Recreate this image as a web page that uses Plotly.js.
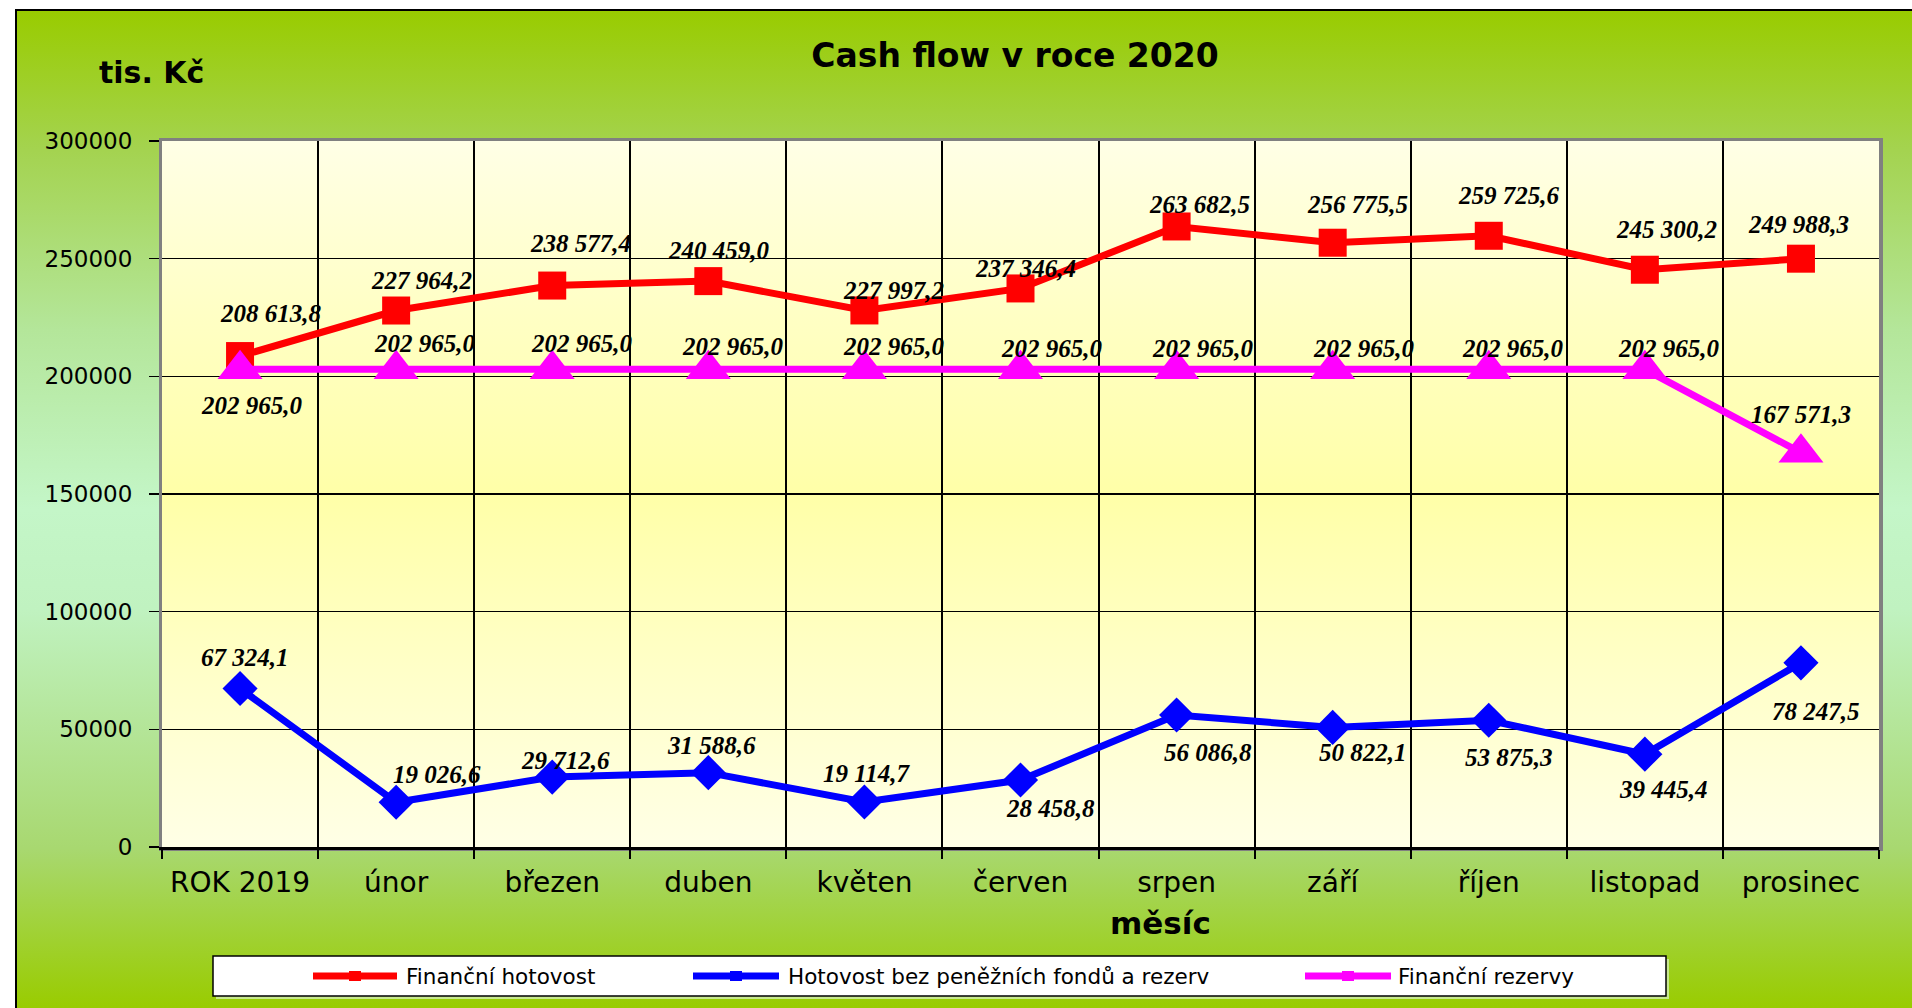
<!DOCTYPE html>
<html><head><meta charset="utf-8">
<script src="https://cdn.plot.ly/plotly-3.0.1.min.js"></script>
<style>
html,body{margin:0;padding:0;background:#fff;width:1912px;height:1008px;overflow:hidden;}
#frame{position:absolute;left:15px;top:9px;width:1897px;height:999px;border-left:2px solid #000;border-top:2px solid #000;box-sizing:border-box;
 background:linear-gradient(to bottom,#99CC00 0%,#A4D350 14%,#B4E69A 32%,#C4F6C8 50%,#C0F2C0 60%,#A8D870 84%,#99CC00 100%);}
#plotbg{position:absolute;left:159px;top:138px;width:1717px;height:706px;border-left:3px solid #808080;border-top:3px solid #808080;border-right:4px solid #808080;border-bottom:4px solid #808080;
 background:linear-gradient(to bottom,#FFFFE6 0%,#FFFFC4 25%,#FFFFA8 50%,#FFFFC8 75%,#FFFFE6 100%);}
#chart{position:absolute;left:0;top:0;width:1912px;height:1008px;}
</style></head>
<body>
<div id="frame"></div>
<div id="plotbg"></div>
<div id="chart"></div>
<script>
// ---- data ----
const categories = ['ROK 2019','únor','březen','duben','květen','červen','srpen','září','říjen','listopad','prosinec'];
const financniHotovost = [208613.8,227964.2,238577.4,240459.0,227997.2,237346.4,263682.5,256775.5,259725.6,245300.2,249988.3];
const hotovostBezFondu = [67324.1,19026.6,29712.6,31588.6,19114.7,28458.8,56086.8,50822.1,53875.3,39445.4,78247.5];
const financniRezervy = [202965.0,202965.0,202965.0,202965.0,202965.0,202965.0,202965.0,202965.0,202965.0,202965.0,167571.3];
const seriesNames = ['Finanční hotovost','Hotovost bez peněžních fondů a rezerv','Finanční rezervy'];
const yTicks = [0,50000,100000,150000,200000,250000,300000];

// ---- label offsets (px; style only) ----
const offRed  = [[31,-43],[25,-30],[28,-42],[11,-31],[29,-20],[5,-20],[23,-22],[25,-38],[20,-40],[22,-40],[-2,-34]];
const offBlue = [[5,-31],[41,-28],[13,-17],[3,-27],[3,-29],[30,28],[31,37],[30,25],[20,37],[19,35],[15,49]];
const offMag  = [[12,36],[29,-26],[30,-26],[25,-23],[30,-23],[31,-21],[26,-21],[31,-21],[24,-21],[24,-21],[0,-38]];

const colors = ['#FF0000','#0000FF','#FF00FF'];

function fmt(v){
  const s = v.toFixed(1).split('.');
  const int = s[0].replace(/\B(?=(\d{3})+(?!\d))/g,' ');
  return int + ',' + s[1];
}

const traces = [
  {x:categories,y:financniHotovost,name:seriesNames[0],type:'scatter',mode:'lines+markers',
   line:{color:colors[0],width:7},marker:{symbol:'square',size:28,color:colors[0]},hoverinfo:'skip'},
  {x:categories,y:financniRezervy,name:seriesNames[2],type:'scatter',mode:'lines+markers',
   line:{color:colors[2],width:7},marker:{symbol:'triangle-up',size:39,color:colors[2]},hoverinfo:'skip'},
  {x:categories,y:hotovostBezFondu,name:seriesNames[1],type:'scatter',mode:'lines+markers',
   line:{color:colors[1],width:7},marker:{symbol:'diamond',size:27,color:colors[1]},hoverinfo:'skip'}
];

const labelFont = {family:'Liberation Serif',size:25,weight:'bold',style:'italic',color:'#000'};
const annotations = [];
function addLabels(vals, offs){
  vals.forEach((v,i)=>{
    annotations.push({xref:'x',yref:'y',x:categories[i],y:v,text:fmt(v),showarrow:false,
      xshift:offs[i][0],yshift:-offs[i][1],font:labelFont,xanchor:'center',yanchor:'middle'});
  });
}
addLabels(financniHotovost,offRed);
addLabels(hotovostBezFondu,offBlue);
addLabels(financniRezervy,offMag);

// pixel -> paper helpers for decorations
const L=162,R=1879,T=141,B=847;
const PX = x => (x-L)/(R-L);
const PY = y => (B-y)/(B-T);

// axis unit labels
annotations.push({xref:'paper',yref:'paper',x:PX(151),y:PY(72),text:'tis. Kč',showarrow:false,
  xanchor:'center',yanchor:'middle',font:{family:'DejaVu Sans',size:30,weight:'bold',color:'#000'}});
annotations.push({xref:'paper',yref:'paper',x:PX(1160),y:PY(923),text:'měsíc',showarrow:false,
  xanchor:'center',yanchor:'middle',font:{family:'DejaVu Sans',size:31,weight:'bold',color:'#000'}});

// manual legend
const shapes = [];
shapes.push({type:'rect',xref:'paper',yref:'paper',x0:PX(216),x1:PX(1669),y0:PY(959),y1:PY(999),
  fillcolor:'#C8E890',line:{width:0},layer:'above'});
shapes.push({type:'rect',xref:'paper',yref:'paper',x0:PX(213),x1:PX(1666),y0:PY(956),y1:PY(996),
  fillcolor:'#FFFFFF',line:{color:'#000',width:1.5},layer:'above'});
const legItems = [
  {x0:313,x1:397,tx:404,name:seriesNames[0],c:colors[0]},
  {x0:693,x1:779,tx:786,name:seriesNames[1],c:colors[1]},
  {x0:1305,x1:1391,tx:1396,name:seriesNames[2],c:colors[2]}
];
const ly = 976;
legItems.forEach(it=>{
  shapes.push({type:'line',xref:'paper',yref:'paper',x0:PX(it.x0),x1:PX(it.x1),y0:PY(ly),y1:PY(ly),
    line:{color:it.c,width:7},layer:'above'});
  const cx=(it.x0+it.x1)/2;
  shapes.push({type:'rect',xref:'paper',yref:'paper',x0:PX(cx-6),x1:PX(cx+6),y0:PY(ly+5),y1:PY(ly-5),
    fillcolor:it.c,line:{width:0},layer:'above'});
  annotations.push({xref:'paper',yref:'paper',x:PX(it.tx),y:PY(ly),text:it.name,showarrow:false,
    xanchor:'left',yanchor:'middle',font:{family:'DejaVu Sans',size:21.5,color:'#000'}});
});

const layout = {
  width:1912,height:1008,
  margin:{l:L,r:1912-R,t:T,b:1008-B,pad:0},
  paper_bgcolor:'rgba(0,0,0,0)',plot_bgcolor:'rgba(0,0,0,0)',
  showlegend:false,
  separators:', ',
  title:{text:'Cash flow v roce 2020',xref:'container',yref:'container',x:1015/1912,y:1-55/1008,
    xanchor:'center',yanchor:'middle',font:{family:'DejaVu Sans',size:33,weight:'bold',color:'#000'}},
  xaxis:{type:'category',range:[-0.5,10.5],tickson:'boundaries',ticks:'outside',ticklen:9,tickwidth:2,tickcolor:'#000',
    showgrid:true,gridcolor:'#000',gridwidth:2,showline:true,linecolor:'#000',linewidth:3,
    tickfont:{family:'DejaVu Sans',size:28,color:'#000'},ticklabelstandoff:8,fixedrange:true},
  yaxis:{range:[0,300000],tickvals:yTicks,ticktext:yTicks.map(String),ticks:'outside',ticklen:10,tickwidth:1.5,tickcolor:'#000',
    showgrid:true,gridcolor:'#000',gridwidth:1.3,zeroline:false,showline:true,linecolor:'#808080',linewidth:3,
    tickfont:{family:'DejaVu Sans',size:23,color:'#000'},ticklabelstandoff:12,fixedrange:true},
  annotations:annotations,
  shapes:shapes
};

Plotly.newPlot('chart',traces,layout,{displayModeBar:false,staticPlot:true});
</script>
</body></html>
